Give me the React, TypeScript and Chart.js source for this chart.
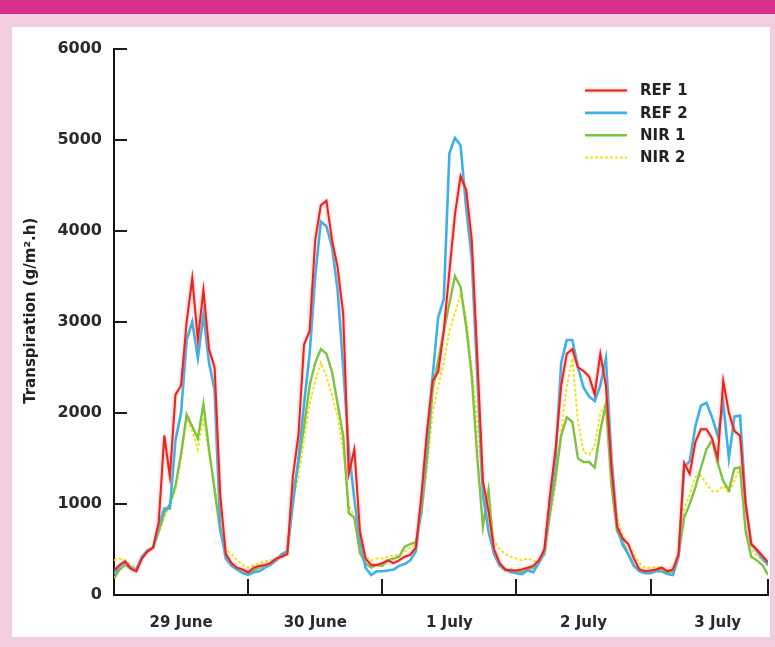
import React, { useEffect, useRef } from "react";
import { Chart, registerables } from "chart.js";

Chart.register(...registerables);

// hour index of each reading (0 = midnight, 29 June)
const HOURS = Array.from({ length: 118 }, (_, i) => i);

const DAY_LABELS = ["29 June", "30 June", "1 July", "2 July", "3 July"];
const DAY_LABEL_HOURS = [12, 36, 60, 84, 108];
const DAY_TICK_HOURS = [24, 48, 72, 96, 117];
const Y_TICKS = [1000, 2000, 3000, 4000, 5000, 6000];
const Y_TITLE = "Transpiration (g/m².h)";
const SERIES_NAMES = ["REF 1", "REF 2", "NIR 1", "NIR 2"];

const REF1 = [
  270, 330, 370, 290, 260, 400, 480, 520, 800, 1750, 1300, 2200, 2300, 3000, 3480, 2800, 3350, 2700, 2500, 1100, 450, 350, 300, 280,
  250, 300, 320, 330, 350, 400, 420, 450, 1300, 1760, 2750, 2900, 3900, 4280, 4330, 3900, 3600, 3090, 1330, 1600, 700, 400, 330, 330,
  350, 380, 350, 380, 420, 440, 520, 1100, 1800, 2350, 2450, 2900, 3550, 4180, 4600, 4450, 3900, 2600, 1250, 920, 500, 350, 280, 270,
  270, 280, 300, 320, 380, 500, 1100, 1600, 2300, 2650, 2700, 2500, 2460, 2400, 2200, 2650, 2300, 1400, 750, 620, 560, 400, 280, 260,
  270, 280, 300, 260, 280, 450, 1450, 1330, 1680, 1820, 1820, 1720, 1500, 2350, 2000, 1800, 1750, 1000, 560, 500, 430, 360,
];

const REF2 = [
  230, 320, 360, 300, 280, 420, 490, 520, 760, 950, 950, 1700, 2000, 2800, 3000, 2600, 3080, 2550, 2250, 750, 400, 320, 280, 240,
  220, 250, 260, 300, 330, 380, 450, 480, 1000, 1500, 2100, 2650, 3500, 4100, 4050, 3820, 3350, 2500, 1600, 1050, 600, 300, 220, 260,
  260, 270, 280, 320, 340, 380, 480, 1000, 1700, 2400, 3050, 3250, 4850, 5020, 4940, 4250, 3700, 2400, 1100, 700, 450, 320, 280, 250,
  240, 230, 270, 250, 350, 480, 1000, 1500, 2550, 2800, 2800, 2500, 2280, 2180, 2130, 2300, 2600, 1500, 750, 550, 450, 320, 260, 240,
  240, 260, 260, 230, 220, 420, 1400, 1470, 1850, 2080, 2110, 1950, 1750, 2100, 1500, 1960, 1970, 1000, 560, 480, 400, 330,
];

const NIR1 = [
  180, 280, 330, 290, 270, 420, 480, 520, 700, 900, 1000, 1200, 1550, 1980, 1850, 1720, 2100, 1600, 1150, 700, 450, 330, 280, 250,
  230, 270, 300, 320, 350, 380, 430, 460, 1100, 1450, 1850, 2300, 2550, 2700, 2650, 2450, 2100, 1750, 900, 850, 460, 350, 300, 330,
  320, 380, 400, 420, 530, 560, 580, 900, 1500, 2250, 2580, 2900, 3200, 3500, 3380, 2950, 2400, 1500, 750, 1150, 450, 330, 270, 280,
  260, 250, 280, 300, 360, 450, 900, 1300, 1750, 1950, 1900, 1500, 1460, 1460, 1400, 1800, 2100, 1200, 700, 580, 450, 320, 280, 260,
  260, 280, 270, 240, 260, 440, 850, 1000, 1180, 1400, 1600, 1700, 1450, 1250, 1150, 1390, 1400, 700, 420, 380, 330, 220,
];

const NIR2 = [
  380, 400, 380, 330, 300, 430, 480, 520, 680, 850, 1000, 1150, 1500, 1950, 1800, 1600, 1950, 1550, 1200, 750, 500, 450, 380, 330,
  300, 330, 350, 370, 380, 400, 430, 450, 1000, 1300, 1700, 2100, 2350, 2550, 2400, 2200, 1950, 1600, 1000, 850, 500, 420, 380, 400,
  400, 420, 430, 440, 480, 520, 560, 900, 1400, 2000, 2300, 2550, 2900, 3100, 3300, 3050, 2500, 1900, 1150, 780, 600, 500, 450, 420,
  400, 380, 400, 380, 350, 450, 850, 1200, 1800, 2300, 2600, 1900, 1570, 1540, 1640, 2000, 2100, 1500, 850, 640, 560, 450, 350, 300,
  300, 310, 300, 270, 300, 460, 950, 1100, 1300, 1310, 1220, 1140, 1140, 1200, 1120, 1260, 1400, 750, 500, 430, 380, 320,
];

const COLORS = ["#e3261f", "#3db0e8", "#7fc241", "#efe31a"];
const WIDTHS = [2, 2.6, 2.4, 2];
const DASHES: number[][] = [[], [], [], [3, 2]];
const FONT = '"DejaVu Sans", "Liberation Sans", sans-serif';

const decorPlugin = {
  id: "decor",
  beforeDatasetDraw(chart: any, args: any) {
    if (args.index === 0) {
      chart.ctx.save();
      chart.ctx.shadowColor = "rgba(248,140,140,0.95)";
      chart.ctx.shadowBlur = 3;
    }
  },
  afterDatasetDraw(chart: any, args: any) {
    if (args.index === 0) chart.ctx.restore();
  },
  afterDraw(chart: any) {
    const { ctx, chartArea } = chart;
    const x = chart.scales.x;
    const y = chart.scales.y;
    ctx.save();
    ctx.strokeStyle = "#1c1c1c";
    ctx.lineWidth = 2;
    ctx.setLineDash([]);
    for (const h of DAY_TICK_HOURS) {
      const px = Math.round(x.getPixelForValue(h));
      ctx.beginPath();
      ctx.moveTo(px, chartArea.bottom);
      ctx.lineTo(px, chartArea.bottom - 16);
      ctx.stroke();
    }
    for (const v of Y_TICKS) {
      const py = Math.round(y.getPixelForValue(v));
      ctx.beginPath();
      ctx.moveTo(chartArea.left, py);
      ctx.lineTo(chartArea.left + 13, py);
      ctx.stroke();
    }
    // axis title
    ctx.save();
    ctx.translate(19, (chartArea.top + chartArea.bottom) / 2 - 11);
    ctx.rotate(-Math.PI / 2);
    ctx.font = "bold 15px " + FONT;
    ctx.fillStyle = "#222";
    ctx.textAlign = "center";
    ctx.textBaseline = "middle";
    ctx.fillText(Y_TITLE, 0, 0);
    ctx.restore();
    // legend
    const lx0 = chartArea.right - 183;
    const lx1 = chartArea.right - 141;
    const tx = chartArea.right - 128;
    chart.data.datasets.forEach((ds: any, i: number) => {
      const ly = chartArea.top + 42 + i * 22.3;
      ctx.save();
      if (i === 0) {
        ctx.shadowColor = "rgba(248,140,140,0.95)";
        ctx.shadowBlur = 3;
      }
      ctx.strokeStyle = ds.borderColor;
      ctx.lineWidth = ds.borderWidth;
      ctx.setLineDash(ds.borderDash || []);
      ctx.beginPath();
      ctx.moveTo(lx0, ly);
      ctx.lineTo(lx1, ly);
      ctx.stroke();
      ctx.restore();
      ctx.font = "bold 15px " + FONT;
      ctx.fillStyle = "#222";
      ctx.textAlign = "left";
      ctx.textBaseline = "middle";
      ctx.fillText(ds.label, tx, ly + 1);
    });
    ctx.restore();
  },
};

export default function App() {
  const ref = useRef<HTMLCanvasElement | null>(null);

  useEffect(() => {
    if (!ref.current) return;
    const series = [REF1, REF2, NIR1, NIR2];
    const chart = new Chart(ref.current, {
      type: "line",
      data: {
        labels: HOURS,
        datasets: series.map((d, i) => ({
          label: SERIES_NAMES[i],
          data: d,
          borderColor: COLORS[i],
          backgroundColor: COLORS[i],
          borderWidth: WIDTHS[i],
          borderDash: DASHES[i],
          pointRadius: 0,
          tension: 0,
          fill: false,
        })),
      },
      options: {
        responsive: false,
        animation: false,
        layout: { padding: { top: 15, right: 2, left: 0, bottom: 0 } },
        plugins: {
          legend: { display: false },
          tooltip: { enabled: false },
        },
        scales: {
          x: {
            type: "linear",
            min: 0,
            max: 117,
            grid: { display: false, drawTicks: false },
            border: { display: true, color: "#111", width: 2 },
            afterFit: (s: any) => {
              s.height = 42;
            },
            afterBuildTicks: (s: any) => {
              s.ticks = DAY_LABEL_HOURS.map((v) => ({ value: v }));
            },
            ticks: {
              autoSkip: false,
              maxRotation: 0,
              padding: 19,
              color: "#2a2a2a",
              font: { family: FONT, size: 15, weight: "bold" },
              callback: (v: any) => DAY_LABELS[DAY_LABEL_HOURS.indexOf(Number(v))] ?? "",
            },
          },
          y: {
            min: 0,
            max: 6000,
            grid: { display: false, drawTicks: false },
            border: { display: true, color: "#111", width: 2 },
            afterFit: (s: any) => {
              s.width = 102;
            },
            ticks: {
              stepSize: 1000,
              padding: 12,
              color: "#2a2a2a",
              font: { family: FONT, size: 16, weight: "bold" },
              callback: (v: any) => String(v),
            },
          },
        },
      },
      plugins: [decorPlugin],
    });
    return () => chart.destroy();
  }, []);

  return (
    <div
      style={{
        position: "fixed",
        left: 0,
        top: 0,
        width: 775,
        height: 647,
        background: "#f3cde0",
        overflow: "hidden",
      }}
    >
      <div style={{ position: "absolute", left: 0, top: 0, width: 775, height: 14, background: "#d8308a" }} />
      <div
        style={{
          position: "absolute",
          left: 12,
          top: 27,
          width: 758,
          height: 610,
          background: "#ffffff",
        }}
      >
        <canvas ref={ref} width={758} height={610} style={{ display: "block" }} />
      </div>
    </div>
  );
}
